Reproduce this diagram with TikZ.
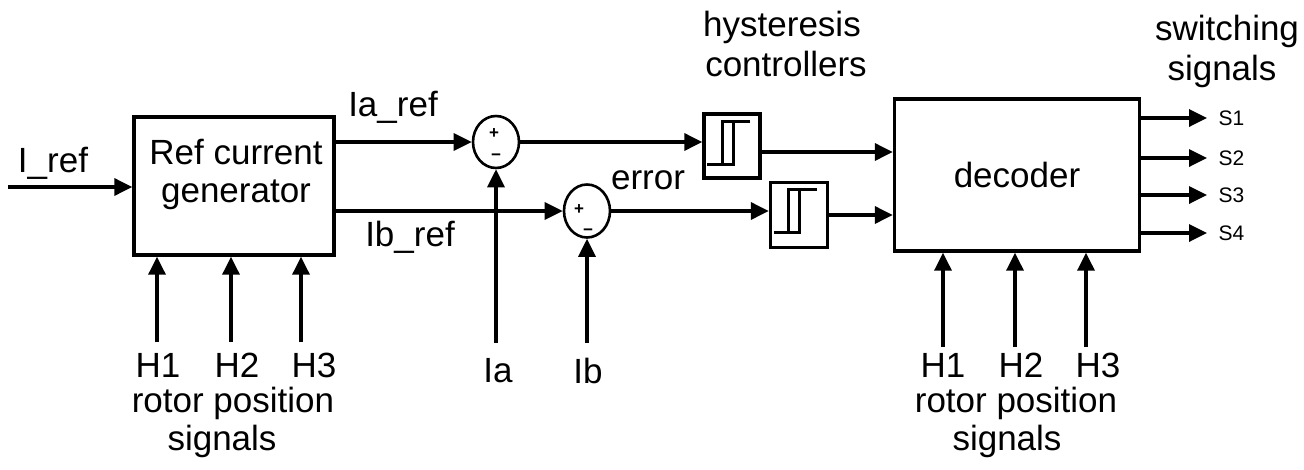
\documentclass[tikz,border=0pt]{standalone}
\usepackage{fontspec}
\setmainfont{Liberation Sans}
\usetikzlibrary{arrows.meta,shapes.geometric}
\begin{document}
\begin{tikzpicture}[x=1pt,y=-1pt,
  line width=3.4pt,
  arr/.style={-{Triangle[length=18pt,width=17pt]}},
  blk/.style={draw,line width=3.4pt,inner sep=0pt},
  lbl/.style={font=\fontsize{35}{38}\selectfont,inner sep=0pt,align=center},
  sml/.style={font=\fontsize{21}{24}\selectfont,inner sep=0pt},
  sgn/.style={font=\fontsize{17}{17}\selectfont\bfseries,inner sep=0pt},
  sumc/.style={draw,ellipse,line width=2.6pt,inner sep=0pt},
  hyline/.style={line width=2.8pt}]
\useasboundingbox (0,0) rectangle (1304,469);

% blocks
\node[blk,minimum width=200pt,minimum height=138pt] (ref) at (234,186) {};
\node[lbl] (reftxt) at (236,174) {Ref current\\generator};
\node[blk,minimum width=245pt,minimum height=152pt,lbl] (dec) at (1017,175) {decoder};
\node[blk,minimum width=56pt,minimum height=64pt] (hy1) at (732,146) {};
\node[blk,minimum width=57pt,minimum height=65pt] (hy2) at (799,215) {};
\node[sumc,minimum width=46pt,minimum height=52pt] (sum1) at (496,142) {};
\node[sumc,minimum width=46pt,minimum height=53pt] (sum2) at (587,211) {};

% hysteresis symbols
\foreach \h in {hy1,hy2}{
  \draw[hyline] ([shift={(5,52)}]\h.north west) -- ([shift={(31,52)}]\h.north west)
     -- ([shift={(31,9)}]\h.north west);
  \draw[hyline] ([shift={(48,9)}]\h.north west) -- ([shift={(20,9)}]\h.north west)
     -- ([shift={(20,52)}]\h.north west);
}

% sum signs
\node[sgn] (p1) at (494,134) {+};
\node[sgn] (m1) at (496,157) {\textminus};
\node[sgn] (p2) at (579,210) {+};
\node[sgn] (m2) at (588,232) {\textminus};

% labels
\node[lbl] (lIref) at (53,163) {I\_ref};
\node[lbl] (lIaref) at (393,107) {Ia\_ref};
\node[lbl] (lIbref) at (410,237) {Ib\_ref};
\node[lbl] (lerr) at (648,180) {error};
\node[lbl] (lIa) at (498,371) {Ia};
\node[lbl] (lIb) at (588,371) {Ib};
\node[lbl] (lhys) at (782,27) {hysteresis};
\node[lbl] (lcon) at (786,64) {controllers};
\node[lbl] (lsw) at (1227,31) {switching};
\node[lbl] (lsig) at (1222,71) {signals};

\node[lbl] (lh1) at (158,365) {H1};
\node[lbl] (lh2) at (237,365) {H2};
\node[lbl] (lh3) at (314,365) {H3};
\node[lbl] (lrp) at (233,403) {rotor position};
\node[lbl] (lsg) at (222,441) {signals};
\node[lbl] (rh1) at (943,365) {H1};
\node[lbl] (rh2) at (1021,365) {H2};
\node[lbl] (rh3) at (1098,365) {H3};
\node[lbl] (rrp) at (1016,403) {rotor position};
\node[lbl] (rsg) at (1007,441) {signals};

% free ends
\coordinate (iref0) at (8,187);
\coordinate (ia0) at (496,343);
\coordinate (ib0) at (587,343);
\coordinate (lh1a) at (157,342);
\coordinate (lh2a) at (231,342);
\coordinate (lh3a) at (301,342);
\coordinate (rh1a) at (943,347);
\coordinate (rh2a) at (1015,347);
\coordinate (rh3a) at (1086,347);
\coordinate (s1e) at (1207,118);
\coordinate (s2e) at (1207,158);
\coordinate (s3e) at (1207,195);
\coordinate (s4e) at (1207,233);
\coordinate (h1o) at ([yshift=-6pt]hy1.east);

% connectors
\draw[arr] (iref0) -- (iref0 -| ref.west);
\draw[arr] (ref.east |- sum1.west) -- (sum1.west);
\draw[arr] (ref.east |- sum2.west) -- (sum2.west);
\draw[arr] (sum1.east) -- (sum1.east -| hy1.west);
\draw[arr] (sum2.east) -- (sum2.east -| hy2.west);
\draw[arr] (h1o) -- (h1o -| dec.west);
\draw[arr] (hy2.east) -- (hy2.east -| dec.west);
\draw[arr] (ia0) -- (sum1.south);
\draw[arr] (ib0) -- (sum2.south);
\foreach \c in {lh1a,lh2a,lh3a}{\draw[arr] (\c) -- (\c |- ref.south);}
\foreach \c in {rh1a,rh2a,rh3a}{\draw[arr] (\c) -- (\c |- dec.south);}
\foreach \c in {s1e,s2e,s3e,s4e}{\draw[arr] (\c -| dec.east) -- (\c);}

\node[sml,anchor=west] (ls1) at (1217,118) {S1};
\node[sml,anchor=west] (ls2) at (1217,158) {S2};
\node[sml,anchor=west] (ls3) at (1217,195) {S3};
\node[sml,anchor=west] (ls4) at (1217,233) {S4};
\end{tikzpicture}
\end{document}
